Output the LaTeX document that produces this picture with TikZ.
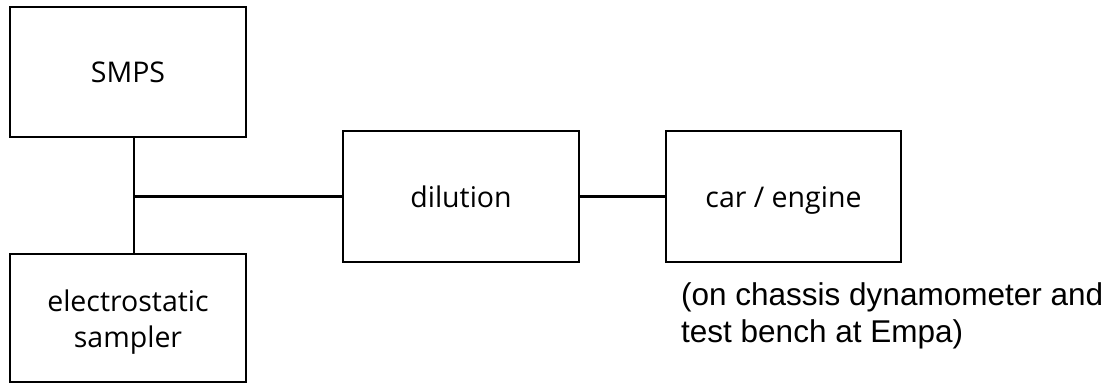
\documentclass[tikz,border=0pt]{standalone}
\usepackage{fontspec}
\newfontfamily\boxfont{Open Sans}
\newfontfamily\annfont{Liberation Sans}
\begin{document}
\begin{tikzpicture}[x=1pt,y=-1pt,
  box/.style={draw=black, line width=2.6pt, inner sep=0pt, align=center,
    text=black, font=\boxfont\fontsize{28.5}{36}\selectfont},
  oneline/.style={text height=25pt, text depth=4pt},
  conn/.style={draw=black, line width=2.6pt}]
\useasboundingbox[fill=white] (0,0) rectangle (1110,384);
\node[box, oneline, minimum width=236pt, minimum height=130pt] (smps) at (128,72) {SMPS};
\node[box, minimum width=236pt, minimum height=128pt] (es) at (128,318) {\rule{0pt}{30pt}electrostatic\\sampler};
\node[box, oneline, minimum width=236pt, minimum height=131pt] (dil) at (461,196.5) {dilution};
\node[box, oneline, minimum width=235pt, minimum height=131pt] (car) at (783.5,196.5) {car / engine};
\coordinate (j) at (134,196.5);
\draw[conn] (smps.south -| j) -- (es.north -| j);
\draw[conn] (j) -- (dil.west);
\draw[conn] (dil.east) -- (car.west);
\node[anchor=north west, inner sep=0pt, align=left, text=black,
  font=\annfont\fontsize{31.5}{37}\selectfont] (note) at (681,282)
  {(on chassis dynamometer and\\test bench at Empa)};
\end{tikzpicture}
\end{document}
